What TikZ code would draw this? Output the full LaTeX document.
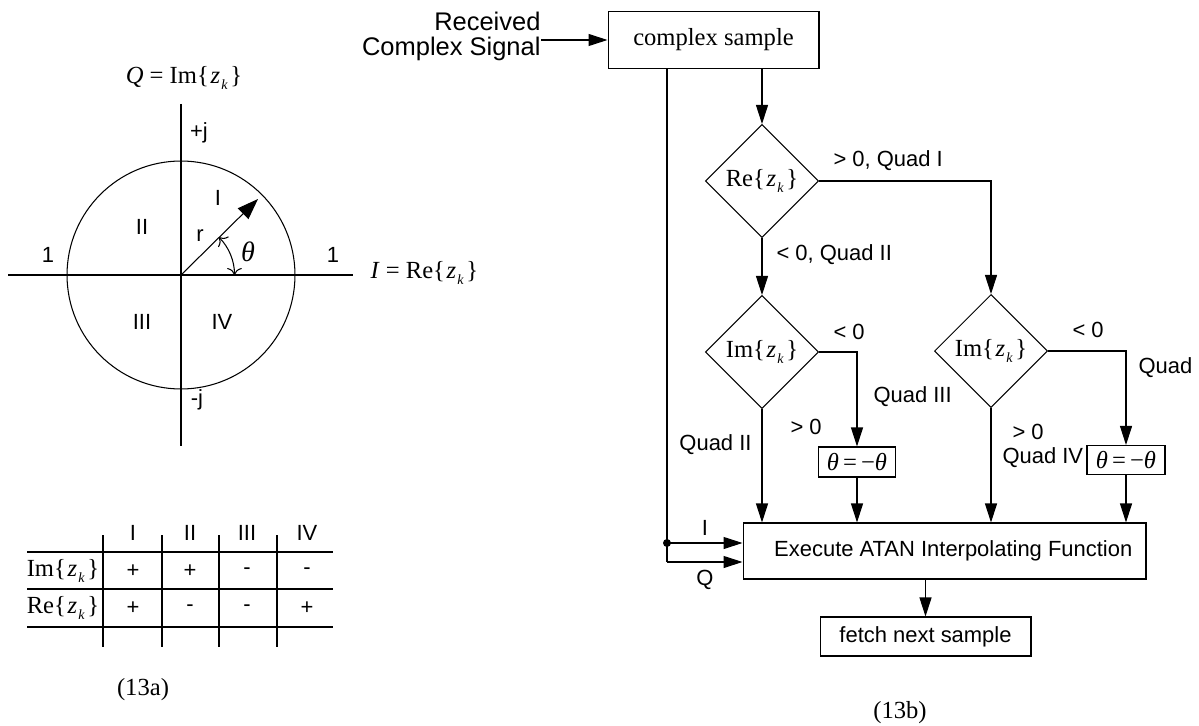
\documentclass[tikz,border=0pt]{standalone}
\usepackage{fontspec}
\setmainfont{Liberation Sans}
\newfontfamily\tms{Liberation Serif}
\usetikzlibrary{arrows.meta,shapes.geometric}
\newcommand\zk{\textit{z}\kern0.6pt\raisebox{-0.45ex}{\fontsize{8}{8}\selectfont\textit{k}}\kern1.5pt}
\newcommand\rez{Re\{\kern1pt\zk\}}
\newcommand\imz{Im\{\kern1pt\zk\}}
\newcommand\sanssize{\fontsize{12.5}{14.2}\selectfont}
\newcommand\serifsize{\tms\fontsize{14}{16}\selectfont}
\tikzset{
  box/.style={
    draw,
    inner sep=0pt,
    font=\sanssize
  },
  test/.style={
    draw,
    diamond,
    aspect=1,
    minimum width=2.26cm,
    minimum height=2.26cm,
    inner sep=0pt,
    font=\serifsize
  },
  tag/.style={inner sep=0pt, font=\sanssize},
  mtext/.style={inner sep=0pt, font=\serifsize},
  flow/.style={-{Triangle[length=0.38cm,width=0.24cm]}}
}

\begin{document}
\begin{tikzpicture}[x=0.02cm, y=-0.02cm, line width=0.6pt]
  \useasboundingbox (0,0) rectangle (1199,726);

  % (13a) unit circle
  \coordinate (origin) at (181,275);
  \coordinate (tip) at (258,199);
  \draw (8,275) -- (353,275);
  \draw (181,104) -- (181,446);
  \draw (origin) circle[radius=2.28cm];
  \draw[-{Triangle[length=0.42cm,width=0.3cm]}] (origin) -- (tip);
  \draw[{To[length=4pt]}-{To[length=4pt]}] ([shift={(45:1.07cm)}]origin) arc[start angle=45, end angle=0, radius=1.07cm];
  \node[mtext] (qaxis) at (184,78) {\textit{Q} = \imz};
  \node[mtext, anchor=west] (iaxis) at (370,273) {\textit{I} = \rez};
  \node[tag] (pj) at (199,133) {+j};
  \node[tag] (mj) at (197,400) {-j};
  \node[tag] (one1) at (48,255) {1};
  \node[tag] (one2) at (333,255) {1};
  \node[tag] (q1) at (218,198) {I};
  \node[tag] (q2) at (142,227) {II};
  \node[tag] (q3) at (142,322) {III};
  \node[tag] (q4) at (222,322) {IV};
  \node[tag] (rad) at (200,236) {r};
  \node[mtext, font=\tms\fontsize{16}{18}\selectfont] (ang) at (248,252) {\textit{θ}};

  % sign table
  \foreach \y in {552,589,627}
    \draw (27,\y) -- (333,\y);
  \foreach \x in {103,162,219,277}
    \draw (\x,535) -- (\x,647);
  \foreach \x/\t in {133/I,190/II,247/III,307/IV}
    \node[tag] at (\x,533) {\t};
  \node[mtext] (imrow) at (63,571) {\imz};
  \node[mtext] (rerow) at (63,608) {\rez};
  \foreach \x/\s in {133/+,190/+,247/-,307/-}
    \node[tag] at (\x,571) {\s};
  \foreach \x/\s in {133/+,190/-,247/-,307/+}
    \node[tag] at (\x,608) {\s};
  \node[mtext] (capa) at (143,690) {(13a)};

  % (13b) flow chart
  \node[box, minimum width=4.22cm, minimum height=1.14cm, font=\serifsize] (sample) at (713.5,40) {complex sample};
  \node[tag, anchor=east, align=right, font=\fontsize{14.5}{14.3}\selectfont] (rx) at (541,36) {Received\\Complex Signal};
  \node[test] (re) at (762,181) {\rez};
  \node[test] (imleft) at (762,352) {\imz};
  \node[test] (imright) at (991,351) {\imz};
  \node[box, minimum width=1.54cm, minimum height=0.6cm, font=\serifsize] (negleft) at (857,462) {\textit{θ}\,=\,−\textit{θ}};
  \node[box, minimum width=1.56cm, minimum height=0.58cm, font=\serifsize] (negright) at (1126,460) {\textit{θ}\,=\,−\textit{θ}};
  \node[box, minimum width=8.06cm, minimum height=1.12cm] (atan) at (944.5,551) {\hspace*{0.35cm}Execute ATAN Interpolating Function};
  \node[box, minimum width=4.22cm, minimum height=0.78cm] (fetch) at (925.5,636.5) {fetch next sample};
  \coordinate (tap) at (667,543);
  \coordinate (qturn) at (667,562);

  \draw[flow] (rx.east |- sample.west) -- (sample.west);
  \draw[flow] (sample.south -| re.north) -- (re.north);
  \draw[flow] (re.east) -| (imright.north);
  \draw[flow] (re.south) -- (imleft.north);
  \draw[flow] (imleft.east) -| (negleft.north);
  \draw[flow] (imright.east) -| (negright.north);
  \draw[flow] (imleft.south) -- (imleft.south |- atan.north);
  \draw[flow] (negleft.south) -- (negleft.south |- atan.north);
  \draw[flow] (imright.south) -- (imright.south |- atan.north);
  \draw[flow] (negright.south) -- (negright.south |- atan.north);
  \draw[flow] (atan.south -| fetch.north) -- (fetch.north);
  \draw (sample.south -| tap) -- (qturn);
  \draw[flow] (tap) -- (tap -| atan.west);
  \draw[flow] (qturn) -- (qturn -| atan.west);
  \fill (tap) circle[radius=0.08cm];

  \node[tag, anchor=west] (gt1) at (833,161) {> 0, Quad I};
  \node[tag, anchor=west] (lt1) at (776,255) {< 0, Quad II};
  \node[tag, anchor=west] (lt2) at (833,332) {< 0};
  \node[tag, anchor=west] (quad3) at (873,397) {Quad III};
  \node[tag, anchor=west] (gt2) at (790,427) {> 0};
  \node[tag, anchor=east] (quad2) at (752,445) {Quad II};
  \node[tag, anchor=west] (lt3) at (1072,330) {< 0};
  \node[tag, anchor=west] (quadr) at (1138,368) {Quad};
  \node[tag, anchor=west] (gt3) at (1012,432) {> 0};
  \node[tag, anchor=west] (quad4) at (1002,458) {Quad IV};
  \node[tag] (ilbl) at (705,528) {I};
  \node[tag] (qlbl) at (705,580) {Q};
  \node[mtext] (capb) at (900,713) {(13b)};
\end{tikzpicture}
\end{document}
